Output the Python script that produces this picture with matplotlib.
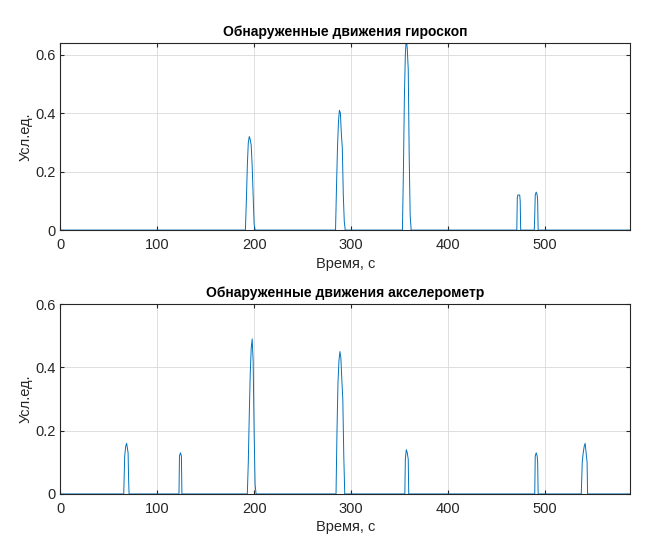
import matplotlib
matplotlib.use("Agg")
import matplotlib.pyplot as plt

plt.rcParams['font.family'] = ['Liberation Sans', 'DejaVu Sans']

# Гироскоп: точки сигнала (время, с / усл. ед.)
gyro_t = [0, 191, 192, 193, 194, 195, 196, 197, 198, 199, 200, 201,
          284, 285, 286, 287, 288, 289, 290, 291, 292, 293, 294,
          353, 354, 355, 356, 357, 358, 359, 360, 361, 362,
          471, 471.5, 472, 474, 474.5, 475,
          489, 489.5, 490, 491, 492, 492.5, 493, 588]
gyro_v = [0, 0, 0.1, 0.22, 0.3, 0.32, 0.31, 0.29, 0.22, 0.12, 0.02, 0,
          0, 0.15, 0.28, 0.37, 0.41, 0.4, 0.33, 0.28, 0.12, 0.03, 0,
          0, 0.2, 0.45, 0.6, 0.66, 0.62, 0.55, 0.25, 0.05, 0,
          0, 0.11, 0.12, 0.12, 0.1, 0,
          0, 0.05, 0.12, 0.13, 0.12, 0.1, 0, 0]

# Акселерометр
acc_t = [0, 65.5, 66.5, 67.5, 68.5, 70, 70.5, 71,
         122.5, 123, 124, 125, 125.5,
         193, 194, 195, 196, 197, 198, 199, 200, 201, 202,
         284.5, 285.5, 286.5, 287.5, 288.5, 289.5, 290.5, 291.5, 292.5, 293.5,
         355.5, 356, 357, 358, 359, 359.5,
         489.5, 490, 491, 492, 492.5, 493,
         537.5, 538.5, 539.5, 540.5, 541.5, 542.5, 543.5, 544, 588]
acc_v = [0, 0, 0.12, 0.15, 0.16, 0.13, 0.05, 0,
         0, 0.12, 0.13, 0.12, 0,
         0, 0.1, 0.25, 0.38, 0.46, 0.49, 0.42, 0.2, 0.03, 0,
         0, 0.2, 0.35, 0.42, 0.45, 0.43, 0.36, 0.3, 0.12, 0,
         0, 0.11, 0.14, 0.13, 0.11, 0,
         0, 0.12, 0.13, 0.12, 0.1, 0,
         0, 0.1, 0.13, 0.15, 0.16, 0.13, 0.1, 0, 0]

titles = ["Обнаруженные движения гироскоп", "Обнаруженные движения акселерометр"]
xticks = [0, 100, 200, 300, 400, 500]
yticks_top = [0, 0.2, 0.4, 0.6]
yticks_bot = [0, 0.2, 0.4, 0.6]

line_col = (0.0, 0.447, 0.741)
axc = (0.15, 0.15, 0.15)

fig = plt.figure(figsize=(6.62, 5.44), dpi=100)
ax1 = fig.add_axes([0.091, 0.577, 0.861, 0.344])
ax2 = fig.add_axes([0.091, 0.092, 0.861, 0.349])


def style(ax, title, ylim, yticks):
    ax.set_xlim(0, 588)
    ax.set_ylim(*ylim)
    ax.set_xticks(xticks)
    ax.set_yticks(yticks)
    ax.set_yticklabels([("%g" % v) for v in yticks])
    ax.grid(True, color=(0.85, 0.85, 0.85), linewidth=0.6)
    ax.set_axisbelow(True)
    ax.tick_params(direction='in', length=3, colors=axc, labelsize=10.5,
                   top=True, right=True, labelcolor=axc)
    ax.tick_params(axis='x', pad=6)
    for s in ax.spines.values():
        s.set_color(axc)
        s.set_linewidth(0.8)
    ax.set_title(title, fontsize=10, fontweight='bold', pad=5, color='black')
    ax.set_xlabel("Время, с", fontsize=10.5, color=axc, labelpad=3)
    ax.set_ylabel("Усл.ед.", fontsize=10.5, color=axc, labelpad=2)


ax1.plot(gyro_t, gyro_v, color=line_col, linewidth=0.7)
style(ax1, titles[0], (0, 0.64), yticks_top)

ax2.plot(acc_t, acc_v, color=line_col, linewidth=0.7)
style(ax2, titles[1], (0, 0.6), yticks_bot)

fig.savefig("out.png", dpi=100)
